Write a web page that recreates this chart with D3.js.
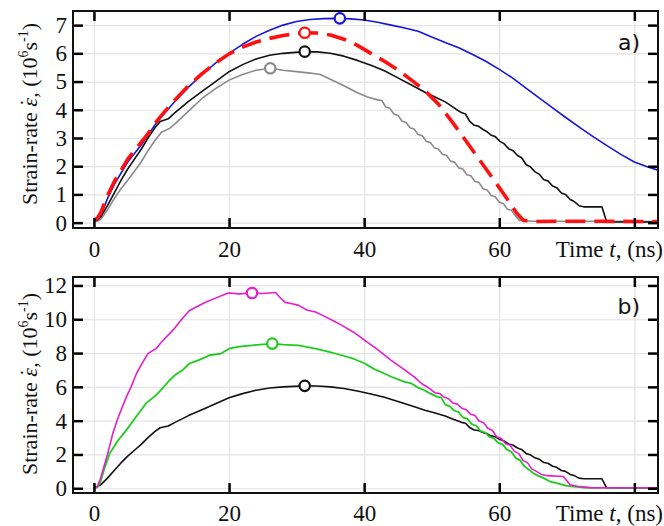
<!DOCTYPE html>
<html><head><meta charset="utf-8">
<script src="https://cdn.jsdelivr.net/npm/d3@7"></script>
</head><body style="margin:0;background:#fff">
<svg id="c" width="664" height="526"></svg>
<script>
// ---------- data ----------
const xTicks = [0, 20, 40, 60, 80];
const xTickLabels = ["0", "20", "40", "60", ""];
const yTicksA = [0, 1, 2, 3, 4, 5, 6, 7];
const yTicksB = [0, 2, 4, 6, 8, 10, 12];

// panel a
const blueA = [[0,0.1],[0.5,0.1],[1,0.25],[2,0.85],[3,1.35],[4,1.75],[5,2.15],[6,2.45],[7,2.75],[8,3.1],[9,3.45],[10,3.75],[12,4.3],[14,4.8],[16,5.25],[18,5.65],[20,6.0],[22,6.32],[24,6.6],[26,6.82],[28,7.0],[30,7.13],[32,7.2],[34,7.23],[36.4,7.24],[38,7.22],[40,7.18],[42,7.1],[44,7.0],[46,6.9],[48,6.78],[50,6.58],[52,6.38],[54,6.2],[56,5.97],[58,5.72],[60,5.43],[62,5.12],[64,4.76],[66,4.4],[68,4.05],[70,3.7],[72,3.36],[74,3.03],[76,2.72],[78,2.42],[80,2.15],[82,1.97],[83.5,1.86]];
const redA = [[0,0.1],[0.5,0.15],[1,0.35],[2,0.95],[3,1.45],[4,1.85],[5,2.25],[6,2.55],[7,2.85],[8,3.15],[9,3.5],[10,3.8],[12,4.35],[14,4.85],[16,5.28],[18,5.65],[20,5.98],[22,6.22],[24,6.4],[26,6.53],[28,6.63],[30,6.7],[31.2,6.73],[33,6.72],[35,6.65],[37,6.5],[39,6.28],[41,6.0],[43,5.72],[45,5.41],[47,5.05],[49,4.68],[51,4.2],[53,3.58],[55,2.92],[57,2.25],[59,1.58],[61,0.9],[62.6,0.33],[63.6,0.08],[65,0.04],[70,0.05],[75,0.05],[80,0.04],[83.5,0.04]];
const blackAB = [[0,0.05],[0.5,0.1],[1,0.2],[2,0.6],[3,1.05],[4,1.5],[5,1.9],[6,2.25],[7,2.6],[8,3.0],[9,3.35],[9.8,3.58],[11,3.68],[12,3.9],[14,4.3],[16,4.65],[18,5.0],[20,5.35],[22,5.6],[24,5.8],[26,5.93],[28,6.0],[31.2,6.06],[33,6.05],[35,6.0],[37,5.9],[39,5.75],[41,5.58],[43,5.38],[45,5.13],[47,4.88],[49,4.62],[50.5,4.45],[52,4.28],[53,4.12],[53.6,4.02],[54.4,3.9],[55.0,3.85],[55.6,3.6],[56.3,3.45],[56.9,3.42],[57.6,3.3],[58.2,3.22],[58.8,3.1],[59.4,3.05],[60.1,2.88],[60.7,2.8],[61.4,2.62],[62.0,2.56],[62.7,2.38],[63.3,2.3],[64.0,2.05],[64.6,1.98],[65.3,1.8],[65.9,1.72],[66.6,1.52],[67.2,1.48],[67.9,1.3],[68.5,1.24],[69.2,1.05],[69.8,1.0],[70.5,0.82],[71.1,0.75],[71.8,0.6],[72.5,0.56],[75.2,0.56],[75.9,0.02],[83.5,0.02]];
const grayA = [[0,0.05],[0.5,0.05],[1,0.12],[2,0.45],[3,0.85],[4,1.2],[5,1.5],[6,1.82],[7,2.15],[8,2.55],[9,2.9],[10,3.2],[11.2,3.34],[12,3.5],[14,3.95],[16,4.4],[18,4.75],[20,5.05],[22,5.25],[24,5.4],[26.1,5.47],[28,5.4],[30,5.35],[32,5.3],[33.5,5.25],[35,5.08],[37,4.85],[39,4.6],[40.5,4.45],[42,4.35],[42.6,4.33],[43.2,4.1],[43.8,4.05],[44.4,3.85],[45.0,3.8],[45.6,3.6],[46.2,3.55],[46.8,3.36],[47.4,3.32],[48.0,3.12],[48.6,3.08],[49.2,2.88],[49.8,2.84],[50.4,2.65],[51.0,2.6],[51.6,2.42],[52.2,2.38],[52.8,2.18],[53.4,2.14],[54.0,1.94],[54.6,1.9],[55.2,1.7],[55.8,1.66],[56.4,1.46],[57.0,1.42],[57.6,1.2],[58.2,1.16],[58.8,0.96],[59.4,0.92],[60.0,0.72],[60.6,0.68],[61.2,0.48],[61.8,0.44],[62.4,0.24],[63.0,0.08],[65,0.05],[75,0.05],[83.5,0.04]];

// panel b
const magentaB = [[0,0],[0.5,0.1],[0.9,0.49],[1.5,1.3],[2,2.0],[2.8,3.25],[3.5,4.1],[4.8,5.41],[5.5,6.0],[6.3,6.79],[7,7.3],[8,7.97],[8.5,8.1],[9.2,8.26],[10,8.65],[11.2,9.15],[12,9.5],[13,10.0],[14.1,10.5],[15.5,10.8],[16.6,11.02],[18,11.25],[19.5,11.5],[20,11.55],[21.5,11.5],[23.4,11.55],[25,11.52],[26.9,11.58],[27.5,11.3],[28.3,11.0],[29.5,10.9],[30.3,10.82],[31.5,10.55],[32.8,10.43],[34,10.2],[35.5,9.9],[36.7,9.64],[38.5,9.22],[40.1,8.75],[42,8.2],[44,7.57],[46,7.0],[47.4,6.59],[48.5,6.2],[49.5,5.95],[50.5,5.65],[51.2,5.6],[51.8,5.4],[52.5,5.3],[53.1,5.05],[53.8,4.98],[54.4,4.75],[55.1,4.65],[55.7,4.4],[56.4,4.3],[57.0,3.98],[57.7,3.88],[58.3,3.55],[59.0,3.42],[59.6,3.05],[60.3,2.95],[60.9,2.65],[61.6,2.55],[62.2,2.2],[62.9,2.05],[63.5,1.65],[64.2,1.5],[64.8,1.15],[65.5,1.0],[66.2,0.82],[67,0.75],[69.5,0.7],[70.5,0.2],[71.5,0.12],[73.5,0.04],[83.5,0.03]];
const greenB = [[0,0],[0.5,0.05],[0.9,0.3],[1.5,1.1],[2.35,2.07],[3.5,2.8],[4.8,3.44],[6,4.1],[7.7,5.02],[9.2,5.51],[10,5.85],[11.2,6.39],[12,6.7],[13.1,6.98],[14.1,7.38],[15.6,7.6],[17.1,7.87],[18.8,7.97],[20,8.26],[21.5,8.38],[23.4,8.46],[26.4,8.56],[28,8.5],[30.3,8.46],[32.8,8.26],[34.5,8.1],[36.7,7.87],[38.5,7.65],[40.1,7.38],[41.5,7.05],[42.5,6.88],[44,6.6],[46,6.29],[47,6.2],[48,5.95],[48.9,5.8],[49.8,5.6],[50.9,5.41],[51.4,5.38],[52.0,4.95],[52.7,4.85],[53.3,4.6],[54.0,4.5],[54.6,4.2],[55.3,4.1],[55.9,3.8],[56.6,3.7],[57.2,3.4],[57.9,3.3],[58.5,3.05],[59.2,2.95],[59.8,2.7],[60.5,2.6],[61.1,2.3],[61.8,2.15],[62.4,1.8],[63.1,1.65],[63.7,1.3],[64.4,1.1],[65.0,0.9],[65.7,0.75],[66.6,0.6],[67.5,0.4],[68.5,0.3],[70,0.14],[72.9,0.03],[83.5,0.02]];

// peak markers
const peaksA = [{s:"gray",p:[26.1,5.47]},{s:"black",p:[31.2,6.06]},{s:"blue",p:[36.4,7.24]},{s:"red",p:[31.2,6.73]}];
const peaksB = [{s:"black",p:[31.2,6.06]},{s:"green",p:[26.4,8.56]},{s:"magenta",p:[23.4,11.55]}];

// ---------- styles ----------
const colors = {blue:"#1616d8", red:"#ff1010", black:"#111111", gray:"#8a8a8a", magenta:"#e61ecb", green:"#1ecc1e"};
const SERIF = "Liberation Serif";
const SANS = "DejaVu Sans";

const svg = d3.select("#c");
const X0 = 73, X1 = 658;
const x = d3.scaleLinear().domain([-3.1, 83.5]).range([X0, X1]);

function panel(id, top, bottom, yDomain, yTicks, series, peaks, tag, tagY, titleY, timeY) {
  const y = d3.scaleLinear().domain(yDomain).range([bottom, top]);
  const g = svg.append("g");
  const W = X1 - X0, H = bottom - top;

  g.append("g").attr("transform", `translate(${X0},0)`)
    .call(d3.axisLeft(y).tickValues(yTicks).tickSize(-W).tickFormat(""))
    .call(a => { a.select(".domain").remove(); a.selectAll("line").attr("stroke", "#e3e3e3").attr("stroke-width", 1.2); });
  g.append("g").attr("transform", `translate(0,${bottom})`)
    .call(d3.axisBottom(x).tickValues(xTicks).tickSize(-H).tickFormat(""))
    .call(a => { a.select(".domain").remove(); a.selectAll("line").attr("stroke", "#e3e3e3").attr("stroke-width", 1.2); });

  svg.append("clipPath").attr("id", "clip" + id).append("rect")
    .attr("x", X0).attr("y", top).attr("width", W).attr("height", H);

  const line = d3.line().x(d => x(d[0])).y(d => y(d[1]));
  const lg = g.append("g").attr("clip-path", `url(#clip${id})`);
  series.forEach(s => {
    lg.append("path").datum(s.data).attr("d", line)
      .attr("fill", "none").attr("stroke", colors[s.c])
      .attr("stroke-width", s.w).attr("stroke-linejoin", "round")
      .attr("stroke-dasharray", s.dash || null);
  });
  lg.selectAll("circle.pk").data(peaks).enter().append("circle")
    .attr("cx", d => x(d.p[0])).attr("cy", d => y(d.p[1])).attr("r", 5.2)
    .attr("fill", "#fff").attr("stroke", d => colors[d.s]).attr("stroke-width", 2.2);

  const ax = g.append("g");
  ax.append("g").attr("transform", `translate(${X0},0)`)
    .call(d3.axisLeft(y).tickValues(yTicks).tickSize(-10).tickPadding(6).tickFormat(d3.format("d")))
    .call(a => { a.select(".domain").remove(); a.selectAll("line").attr("stroke-width", 2.5);
      a.selectAll("text").style("font-family", SERIF).style("font-size", "23px").attr("fill", "#111"); });
  ax.append("g").attr("transform", `translate(${X1},0)`)
    .call(d3.axisRight(y).tickValues(yTicks).tickSize(-10).tickFormat(""))
    .call(a => { a.select(".domain").remove(); a.selectAll("line").attr("stroke-width", 2.5); });
  ax.append("g").attr("transform", `translate(0,${top})`)
    .call(d3.axisTop(x).tickValues(xTicks).tickSize(-10).tickFormat(""))
    .call(a => { a.select(".domain").remove(); a.selectAll("line").attr("stroke-width", 2.5); });
  ax.append("g").attr("transform", `translate(0,${bottom})`)
    .call(d3.axisBottom(x).tickValues(xTicks).tickSize(-10).tickFormat((d, i) => xTickLabels[i]))
    .call(a => { a.select(".domain").remove(); a.selectAll("line").attr("stroke-width", 2.5);
      a.selectAll("text").style("font-family", SERIF).style("font-size", "23px").attr("fill", "#111")
        .attr("y", timeY - bottom).attr("dy", 0); });

  g.append("rect").attr("x", X0).attr("y", top).attr("width", W).attr("height", H)
    .attr("fill", "none").attr("stroke", "#111").attr("stroke-width", 2);

  g.append("text").attr("x", 640).attr("y", tagY).attr("text-anchor", "end")
    .style("font-family", SANS).style("font-size", "22px").attr("fill", "#111").text(tag);

  const xt = g.append("text").attr("x", 663).attr("y", timeY).attr("text-anchor", "end")
    .style("font-family", SERIF).style("font-size", "23px").attr("fill", "#111");
  xt.append("tspan").text("Time ");
  xt.append("tspan").style("font-style", "italic").text("t");
  xt.append("tspan").text(", (ns)");

  const yt = g.append("text").attr("transform", `translate(37,${titleY}) rotate(-90)`)
    .attr("text-anchor", "middle").style("font-family", SERIF).style("font-size", "22px").attr("fill", "#111");
  yt.append("tspan").text("Strain-rate ");
  yt.append("tspan").style("font-style", "italic").text("\u03B5");
  yt.append("tspan").attr("dx", -8.3).attr("dy", -2).text("\u02D9");
  yt.append("tspan").attr("dx", 1.2).attr("dy", 2).text(", (10");
  yt.append("tspan").style("font-size", "14px").attr("dy", -9).text("6");
  yt.append("tspan").attr("dy", 9).text("s");
  yt.append("tspan").style("font-size", "14px").attr("dy", -9).text("-1");
  yt.append("tspan").attr("dy", 9).text(")");
}

panel("a", 11, 228, [-0.19, 7.5], yTicksA, [
  {data: grayA, c: "gray", w: 1.6},
  {data: blackAB, c: "black", w: 1.6},
  {data: blueA, c: "blue", w: 1.6},
  {data: redA, c: "red", w: 3.6, dash: "20,9"}
], peaksA, "a)", 50, 114, 257);

panel("b", 277, 493, [-0.28, 12.5], yTicksB, [
  {data: blackAB, c: "black", w: 1.6},
  {data: greenB, c: "green", w: 1.8},
  {data: magentaB, c: "magenta", w: 1.6}
], peaksB, "b)", 314, 384, 521);
</script>
</body></html>
